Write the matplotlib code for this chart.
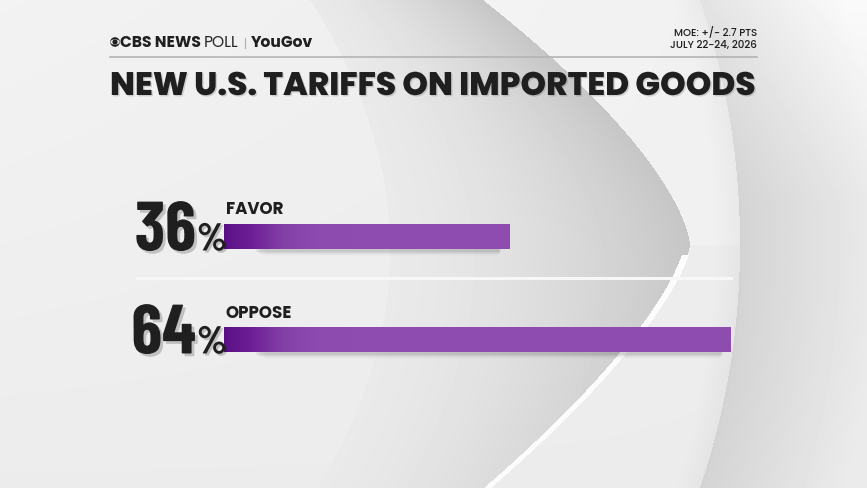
import numpy as np
import matplotlib
matplotlib.use("Agg")
import matplotlib.pyplot as plt
from matplotlib.colors import LinearSegmentedColormap
from matplotlib.patches import Circle, Ellipse
from matplotlib.textpath import TextPath
from matplotlib.font_manager import FontProperties
import matplotlib.patheffects as pe
from matplotlib import font_manager

# ---------------- data ----------------
categories = ["FAVOR", "OPPOSE"]
values = [36, 64]
title = "NEW U.S. TARIFFS ON IMPORTED GOODS"
moe_text = "MOE: +/- 2.7 PTS"
date_text = "JULY 22-24, 2026"
brand_bold = "CBS NEWS"
brand_light = "POLL"
partner = "YouGov"

W, H, DPI = 867, 488, 100
fig = plt.figure(figsize=(W / DPI, H / DPI), dpi=DPI)

names = {f.name for f in font_manager.fontManager.ttflist}


def pick(prefs, default="DejaVu Sans"):
    for p in prefs:
        if p in names:
            return p
    return default


NUMF = pick(["Barlow Condensed", "Fira Sans Extra Condensed", "Roboto Condensed", "DejaVu Sans"])
GOTH = pick(["Poppins", "Lato", "DejaVu Sans"])


def size_for_height(text, px, family, weight):
    fp = FontProperties(family=family, weight=weight)
    hh = TextPath((0, 0), text, size=1, prop=fp).get_extents().height
    return px / hh * 72 / DPI


# ---------------- decorative background ----------------
yy, xx = np.mgrid[0:H, 0:W] + 0.5
img = 0.925 + 0.025 * (1 - yy / H) * (1 - xx / W)

d = np.sqrt((xx + 24) ** 2 + (yy - 244) ** 2)
R = 764
out = d > R
r = np.clip((d - R) / 140, 0, 1)
outer = 0.83 + 0.09 * r + 0.06 * np.clip(1 - yy / 200, 0, 1)
img = np.where(out, outer, img)
edge = np.clip(1 - (R - d) / 25, 0, 1) * (~out)
img = img - 0.03 * edge

xl = 390 - 0.00128 * (yy - 250) ** 2
up = yy <= 245
tu = np.clip((245 - yy) / 245, 0, 1)
tl = np.clip((yy - 245) / 243, 0, 1)
xr = np.where(up, 690 - 207 * tu ** 1.5, 690 - 200 * tl ** 1.4)
inside = (xx > xl) & (xx < xr)
s = np.clip((xx - xl) / np.maximum(xr - xl, 1), 0, 1)
cres = 0.915 - 0.14 * s ** 1.5 * np.where(up, 1.0, np.clip(1 - tl * 0.6, 0, 1))
img = np.where(inside, cres, img)
dist = xr - xx
stripe = (~up) & (dist > -1) & (dist < 6) & (yy > 255)
img = np.where(stripe, 0.985, img)
toplight = (~inside) & (xx > xr) & (~out) & up
img = np.where(toplight, img + 0.015, img)
img = np.clip(img, 0, 1)

bg = fig.add_axes([0, 0, 1, 1])
bg.imshow(img, cmap="gray", vmin=0, vmax=1, extent=(0, W, H, 0),
          aspect="auto", interpolation="bilinear", zorder=0)
bg.set_xlim(0, W)
bg.set_ylim(H, 0)
bg.axis("off")

fig.canvas.draw()
renderer = fig.canvas.get_renderer()


def fit(t, width):
    bb = t.get_window_extent(renderer)
    t.set_fontsize(t.get_fontsize() * width / bb.width)
    return t


# ---------------- header ----------------
DARK = "#1f1f1f"
bg.add_patch(Circle((115, 42), 4.8, facecolor=DARK, edgecolor="none", zorder=3))
bg.add_patch(Ellipse((115, 42), 9.0, 5.4, facecolor="#f0f0f0", edgecolor="none", zorder=4))
bg.add_patch(Circle((115, 42), 2.6, facecolor=DARK, edgecolor="none", zorder=5))
logo_fs = size_for_height("CBS", 9.5, GOTH, "bold")
t = bg.text(120, 47, brand_bold, fontsize=logo_fs, fontweight="bold", family=GOTH,
            color=DARK, va="baseline", ha="left", zorder=5)
fit(t, 81)
fs = t.get_fontsize()
t2 = bg.text(204, 47, brand_light, fontsize=fs, fontweight="normal",
             family=GOTH, color="#2a2a2a", va="baseline", ha="left", zorder=5)
x_end = t2.get_window_extent(renderer).x1
bg.plot([x_end + 6, x_end + 6], [38, 48], color="#b0b0b0", lw=0.8, zorder=5)
t3 = bg.text(x_end + 12, 47, partner, fontsize=fs, fontweight="bold", family=GOTH,
             color=DARK, va="baseline", ha="left", zorder=5)

t = bg.text(757, 36, moe_text, fontsize=7, fontweight="medium", family=GOTH, color=DARK,
            va="baseline", ha="right", zorder=5)
fit(t, 84)
t = bg.text(757, 48, date_text, fontsize=7, fontweight="medium", family=GOTH, color=DARK,
            va="baseline", ha="right", zorder=5)
fit(t, 88)

bg.plot([110, 757], [56.5, 56.5], color="#b4b4b4", lw=1.2, zorder=5)

t = bg.text(110, 95, title, fontsize=22, fontweight=800, family=GOTH,
            color=DARK, va="baseline", ha="left", zorder=5,
            path_effects=[pe.withSimplePatchShadow(offset=(1, -1), alpha=0.15)])
fit(t, 647)

bg.plot([137, 731], [278, 278], color="#f7f7f7", lw=2.2, zorder=2)

# ---------------- bars ----------------
PX_PER_PCT = 7.92
ax = fig.add_axes([224 / W, 1 - 391 / H, (W - 224) / W, 206 / H])
ax.patch.set_alpha(0)
xmax = (W - 224) / PX_PER_PCT
h = 25 / 103

purple = LinearSegmentedColormap.from_list(
    "p", ["#5a1085", "#6e1f96", "#8340a8", "#8d4bb0", "#8e4cb0"])

NUMW = 700
num_fs = size_for_height("36", 50, NUMF, NUMW)
pct_fs = size_for_height("%", 28, NUMF, NUMW)
lab_fs = size_for_height("FAVOR", 12, GOTH, "bold")

for i, (cat, v) in enumerate(zip(categories, values)):
    for k, a in enumerate([0.06, 0.045, 0.03, 0.02, 0.012]):
        ax.barh(i + h * 0.10 + k * 0.012, v - 5 - k * 0.4, height=h, left=4 + k * 0.3,
                color="black", alpha=a, linewidth=0, zorder=1)
    bar = ax.barh(i, v, height=h, color="none", linewidth=0, zorder=3)[0]
    xs = np.linspace(0, v, 600)
    tt = np.clip(xs / 16.0, 0, 1) ** 0.9
    im = ax.imshow(tt[None, :], extent=(0, v, i + h / 2, i - h / 2), cmap=purple,
                   vmin=0, vmax=1, aspect="auto", interpolation="bilinear", zorder=2)
    im.set_clip_path(bar)
    ax.annotate(cat, xy=(0, i), xytext=(2, 22), textcoords="offset pixels",
                ha="left", va="baseline", fontsize=lab_fs, fontweight="bold",
                family=GOTH, color=DARK, zorder=5)
    ax.annotate(f"{v}", xy=(0, i), xytext=(-28, -14), textcoords="offset pixels",
                ha="right", va="baseline", fontsize=num_fs, fontweight=NUMW,
                family=NUMF, color=DARK, zorder=5,
                path_effects=[pe.withSimplePatchShadow(offset=(2, -2), alpha=0.2)])
    ax.annotate("%", xy=(0, i), xytext=(-27, -14), textcoords="offset pixels",
                ha="left", va="baseline", fontsize=pct_fs, fontweight=NUMW,
                family=NUMF, color=DARK, zorder=5,
                path_effects=[pe.withSimplePatchShadow(offset=(1.5, -1.5), alpha=0.2)])

ax.set_xlim(0, xmax)
ax.set_ylim(1.5, -0.5)
ax.axis("off")

fig.savefig("out.png", dpi=DPI)
